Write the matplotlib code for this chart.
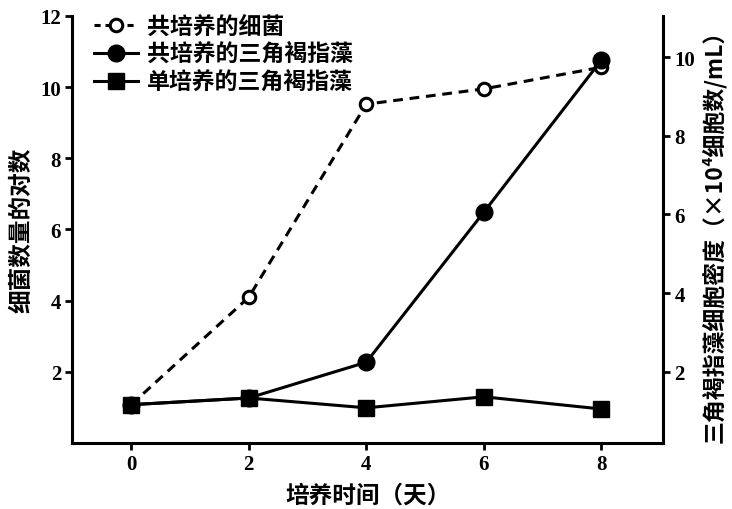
import matplotlib
matplotlib.use("Agg")
import matplotlib.pyplot as plt
from matplotlib.lines import Line2D

plt.rcParams['font.family'] = ['Noto Sans CJK SC', 'DejaVu Sans']

days = [0, 2, 4, 6, 8]
bacteria_co = [1.07, 4.09, 9.52, 9.95, 10.56]
algae_co = [1.16, 1.33, 2.24, 6.06, 9.93]
algae_mono = [1.16, 1.33, 1.08, 1.36, 1.05]

x_ticks = [0, 2, 4, 6, 8]
left_ticks = [2, 4, 6, 8, 10, 12]
right_ticks = [2, 4, 6, 8, 10]

labels = ['共培养的细菌', '共培养的三角褐指藻', '单培养的三角褐指藻']
xlabel = '培养时间（天）'
ylabel_left = '细菌数量的对数'
ylabel_right = '三角褐指藻细胞密度（×10⁴细胞数/mL）'

fig = plt.figure(figsize=(7.32, 5.10), dpi=100)
ax = fig.add_axes([0.0988, 0.1298, 0.8072, 0.8369])
ax2 = ax.twinx()

lw = 2.2
ax.plot(days, bacteria_co, color='black', lw=lw, ls=(0, (3.2, 2.2)),
        marker='o', ms=9, mfc='white', mec='black', mew=2.2, zorder=3)
ax2.plot(days, algae_co, color='black', lw=lw, marker='o', ms=12,
         mfc='black', mec='black', zorder=3)
ax2.plot(days, algae_mono, color='black', lw=lw, marker='s', ms=12,
         mfc='black', mec='black', zorder=4)

ax.set_xlim(-1, 9.05)
ax.set_ylim(0, 12)
ax2.set_ylim(0.19, 11.05)

ax.set_xticks(x_ticks)
ax.set_yticks(left_ticks)
ax2.set_yticks(right_ticks)

for a in (ax, ax2):
    for lab in a.get_xticklabels() + a.get_yticklabels():
        lab.set_fontfamily(['Liberation Serif', 'DejaVu Serif'])
        lab.set_fontweight('bold')
        lab.set_fontsize(15)
    a.spines['top'].set_visible(False)
    for s in a.spines.values():
        s.set_linewidth(2.2)
    a.tick_params(direction='out', width=2, length=5, pad=3)
ax.spines['right'].set_visible(False)
ax2.spines['left'].set_visible(False)
ax2.spines['bottom'].set_visible(False)

cjk = ['Noto Sans CJK SC', 'DejaVu Sans']
ax.set_xlabel(xlabel, family=cjk, weight='bold', size=17, labelpad=6)
ax.set_ylabel(ylabel_left, family=cjk, weight='bold', size=17, labelpad=5)
ax2.set_ylabel(ylabel_right, family=cjk, weight='bold', size=16.5,
               labelpad=5, rotation=90)

handles = [
    Line2D([], [], color='black', lw=lw, ls=(0, (2, 1.6)), marker='o', ms=9,
           mfc='white', mec='black', mew=2.2),
    Line2D([], [], color='black', lw=lw, marker='o', ms=12, mfc='black'),
    Line2D([], [], color='black', lw=lw, marker='s', ms=12, mfc='black'),
]
leg = fig.legend(handles, labels, loc='upper left',
                 bbox_to_anchor=(0.113, 0.992), bbox_transform=fig.transFigure,
                 frameon=False, handlelength=1.9, handletextpad=0.4,
                 labelspacing=0.22, borderpad=0,
                 prop=dict(family=cjk, weight='bold', size=16.5))

fig.savefig('out.png', dpi=100)
